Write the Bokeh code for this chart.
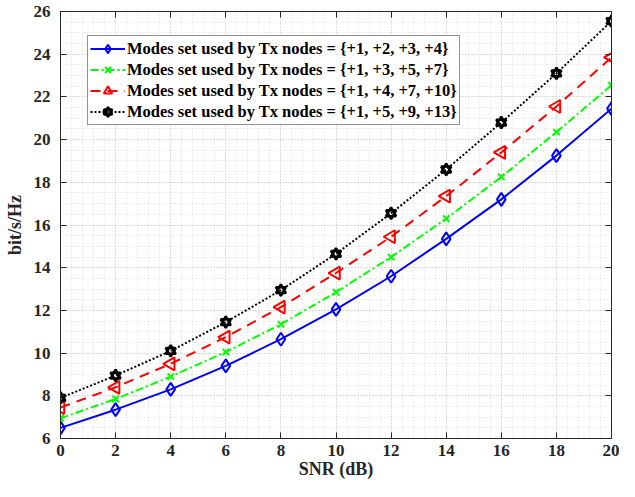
import numpy as np
from bokeh.plotting import figure
from bokeh.models import Range1d, LinearAxis, SingleIntervalTicker, Legend, CustomJSTickFormatter
from bokeh.embed import file_html
from bokeh.resources import INLINE

snr = [0, 2, 4, 6, 8, 10, 12, 14, 16, 18, 20]
rate_m1234 = [6.5, 7.35, 8.3, 9.4, 10.65, 12.05, 13.6, 15.35, 17.2, 19.25, 21.45]
rate_m1357 = [6.95, 7.85, 8.9, 10.05, 11.35, 12.85, 14.5, 16.3, 18.25, 20.35, 22.55]
rate_m14710 = [7.45, 8.4, 9.5, 10.75, 12.15, 13.75, 15.45, 17.35, 19.4, 21.55, 23.85]
rate_m15913 = [7.9, 8.95, 10.1, 11.45, 12.95, 14.65, 16.55, 18.6, 20.8, 23.1, 25.55]
labels = [
    "Modes set used by Tx nodes = {+1, +2, +3, +4}",
    "Modes set used by Tx nodes = {+1, +3, +5, +7}",
    "Modes set used by Tx nodes = {+1, +4, +7, +10}",
    "Modes set used by Tx nodes = {+1, +5, +9, +13}",
]

FONT = "Liberation Serif"
AX = "#262626"

p = figure(width=619, height=481, output_backend="svg", toolbar_location=None,
           x_range=Range1d(0, 20), y_range=Range1d(6, 26),
           min_border_left=60, min_border_right=8, min_border_top=11, min_border_bottom=39,
           x_axis_label="SNR (dB)", y_axis_label="bit/s/Hz")
p.outline_line_color = AX
p.background_fill_color = "white"

xt = SingleIntervalTicker(interval=2, num_minor_ticks=5)
yt = SingleIntervalTicker(interval=2, num_minor_ticks=4)
p.xaxis.ticker = xt
p.yaxis.ticker = yt

for ax in [p.xaxis[0], p.yaxis[0]]:
    ax.major_label_text_font = FONT
    ax.major_label_text_font_style = "bold"
    ax.major_label_text_font_size = "17px"
    ax.major_label_text_color = AX
    ax.axis_label_text_font = FONT
    ax.axis_label_text_font_style = "bold"
    ax.axis_label_text_font_size = "18px"
    ax.axis_label_text_color = AX
    ax.axis_line_color = AX
    ax.major_tick_line_color = AX
    ax.major_tick_in = 6
    ax.major_tick_out = 0
    ax.minor_tick_line_color = None
p.xaxis.axis_label_standoff = 0
p.yaxis.axis_label_standoff = 6
p.xaxis.major_label_standoff = 2
p.yaxis.major_label_standoff = 6

blank = CustomJSTickFormatter(code="return ''")
top = LinearAxis(ticker=xt, formatter=blank, major_label_text_font_size="1px", major_label_standoff=0,
                 major_tick_in=6, major_tick_out=0,
                 minor_tick_line_color=None, axis_line_color=AX, major_tick_line_color=AX)
right = LinearAxis(ticker=yt, formatter=blank, major_label_text_font_size="1px", major_label_standoff=0,
                   major_tick_in=6, major_tick_out=0,
                   minor_tick_line_color=None, axis_line_color=AX, major_tick_line_color=AX)
p.add_layout(top, "above")
p.add_layout(right, "right")

for g in [p.xgrid[0], p.ygrid[0]]:
    g.grid_line_color = "#c8c8c8"
    g.grid_line_dash = "1 2"
    g.minor_grid_line_color = "#dcdcdc"
    g.minor_grid_line_dash = "1 2"

items = []
r1 = p.line(snr, rate_m1234, line_color="#0000ff", line_width=2)
m1 = p.scatter(snr, rate_m1234, marker="diamond", size=13, fill_color=None,
               line_color="#0000ff", line_width=2)
items.append((labels[0], [r1, m1]))

r2 = p.line(snr, rate_m1357, line_color="#00ff00", line_width=2, line_dash="8 3 2 3")
m2 = p.scatter(snr, rate_m1357, marker="x", size=9, line_color="#00ff00", line_width=2)
items.append((labels[1], [r2, m2]))

r3 = p.line(snr, rate_m14710, line_color="#ff0000", line_width=2, line_dash="10 7")
m3 = p.scatter(snr, rate_m14710, marker="triangle", angle=np.pi / 2, size=13, fill_color=None,
               line_color="#ff0000", line_width=2)
items.append((labels[2], [r3, m3]))

r4 = p.line(snr, rate_m15913, line_color="black", line_width=2, line_dash="2 2")
m4a = p.scatter(snr, rate_m15913, marker="triangle", size=10, fill_color=None,
                line_color="black", line_width=2.5)
m4b = p.scatter(snr, rate_m15913, marker="inverted_triangle", size=10, fill_color=None,
                line_color="black", line_width=2.5)
items.append((labels[3], [r4, m4a, m4b]))

legend = Legend(items=items, location=(27, 313))
legend.label_text_font = FONT
legend.label_text_font_style = "bold"
legend.label_text_font_size = "16.5px"
legend.label_text_color = "black"
legend.label_standoff = 2
legend.glyph_width = 35
legend.glyph_height = 21
legend.label_height = 21
legend.spacing = 0
legend.padding = 2
legend.margin = 0
legend.border_line_color = AX
legend.border_line_width = 1
legend.background_fill_alpha = 1
p.add_layout(legend, "center")

open("out.html", "w").write(file_html(p, INLINE))
